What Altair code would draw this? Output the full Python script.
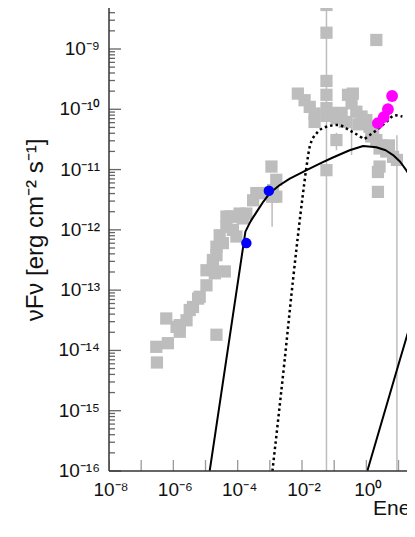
import altair as alt
import pandas as pd
import math

# ---------------- data (log10 values) ----------------
sq_logE = [-6.53, -6.51, -6.17, -6.22, -5.90, -5.80, -5.80, -5.59, -5.49, -5.39,
           -5.23, -5.18, -4.97, -4.97, -4.77, -4.77, -4.71, -4.66, -4.66, -4.46,
           -4.40, -4.35, -4.35, -4.25, -4.04, -3.94, -3.73, -3.52, -3.42, -3.21,
           -2.90, -2.80, -2.95, -2.80, -4.66, -4.15, -4.56, -3.84, -4.15,
           -1.24, -1.24, -1.24, -1.24, -1.24, -1.24, -1.24, 0.31, -2.13, -1.92,
           -1.76, -1.61, -1.61, -0.93, -0.93, -0.57, -0.46, -0.31, -0.15, 0.00,
           0.10, 0.21, 0.31, 0.41, 0.62, 0.83, 0.95, 0.41, 0.36, 0.36,
           -0.42, -1.11, -0.77, -0.67, -0.25, 0.15, 0.50, 0.70, -2.93]
sq_logF = [-13.94, -14.20, -13.88, -13.47, -13.61, -13.58, -13.69, -13.50, -13.33, -13.28,
           -13.14, -13.11, -12.92, -12.67, -12.61, -12.50, -12.72, -12.42, -12.28, -12.22,
           -12.69, -11.95, -11.78, -11.78, -12.11, -11.73, -11.73, -11.51, -11.39, -11.39,
           -11.34, -11.17, -10.95, -11.45, -13.74, -12.00, -12.09, -11.81, -11.78,
           -8.27, -8.73, -9.53, -9.76, -9.98, -10.11, -11.01, -8.85, -9.74, -9.85,
           -9.96, -10.07, -10.21, -10.15, -10.51, -9.76, -9.90, -10.04, -10.12, -10.18,
           -10.29, -10.40, -10.51, -10.65, -10.70, -10.79, -10.84, -10.95, -11.04, -11.37,
           -9.74, -10.06, -10.06, -10.21, -10.25, -10.45, -10.60, -10.60, -11.45]

err_logE = [-1.24, 0.95, -0.46, -0.93, -2.93]
err_lo = [-17.0, -17.0, -10.76, -10.68, -11.95]
err_hi = [-8.0, -10.43, -9.65, -10.39, -11.45]

blue_logE = [-3.73, -3.03]
blue_logF = [-12.22, -11.35]

mag_logE = [0.36, 0.54, 0.67, 0.80]
mag_logF = [-10.23, -10.13, -10.00, -9.78]

syn_logE = [-4.87, -3.76, -3.60, -3.42, -3.20, -3.00, -2.70, -2.38, -1.86, -1.40,
            -1.04, -0.52, -0.10, 0.31, 0.60, 0.83, 1.05, 1.24, 1.50, 1.80, 2.20]
syn_logF = [-16.0, -12.03, -11.86, -11.71, -11.53, -11.39, -11.26, -11.15, -11.01, -10.89,
            -10.80, -10.68, -10.61, -10.63, -10.68, -10.76, -10.87, -11.01, -11.24, -11.60, -12.30]

dot_logE = [-2.92, -2.54, -2.28, -1.97, -1.86, -1.76, -1.55, -1.24, -0.88, -0.52,
            -0.15, -0.10, 0.10, 0.31, 0.62, 0.88, 1.12]
dot_logF = [-16.0, -14.16, -12.83, -11.40, -10.95, -10.62, -10.40, -10.29, -10.26, -10.35,
            -10.47, -10.49, -10.43, -10.35, -10.21, -10.10, -10.12]

ic_logE = [0.03, 1.04, 1.50, 2.50]
ic_logF = [-16.0, -14.16, -13.33, -11.50]

y_major = [-16, -15, -14, -13, -12, -11, -10, -9]
y_labels = ["10⁻¹⁶", "10⁻¹⁵", "10⁻¹⁴", "10⁻¹³", "10⁻¹²", "10⁻¹¹", "10⁻¹⁰", "10⁻⁹"]
x_major = [-8, -7, -6, -5, -4, -3, -2, -1, 0, 1]
x_label_vals = [-8, -6, -4, -2, 0]
x_labels = ["10⁻⁸", "10⁻⁶", "10⁻⁴", "10⁻²", "10⁰"]

# ---------------- layout ----------------
W, H = 298, 463
XD = [-8, -8 + W / 32.17]
YD = [-16, -8.32]
FONT = "Liberation Sans"
GRAY = "#bdbdbd"

xs = alt.Scale(domain=XD, nice=False, zero=False)
ys = alt.Scale(domain=YD, nice=False, zero=False)


def X(f):
    return alt.X(f + ":Q", scale=xs, axis=None)


def Y(f):
    return alt.Y(f + ":Q", scale=ys, axis=None)


sq_df = pd.DataFrame({"e": sq_logE, "f": sq_logF})
err_df = pd.DataFrame({"e": err_logE, "lo": err_lo, "hi": err_hi})
blue_df = pd.DataFrame({"e": blue_logE, "f": blue_logF})
mag_df = pd.DataFrame({"e": mag_logE, "f": mag_logF})


def curve_df(e, f):
    return pd.DataFrame({"e": e, "f": f, "i": list(range(len(e)))})


errs = alt.Chart(err_df).mark_rule(color=GRAY, strokeWidth=1.5, clip=True).encode(
    x=X("e"), y=Y("lo"), y2="hi")
squares = alt.Chart(sq_df).mark_point(shape="square", filled=True, size=150, color=GRAY,
                                      opacity=1, clip=True).encode(x=X("e"), y=Y("f"))
syn = alt.Chart(curve_df(syn_logE, syn_logF)).mark_line(
    color="black", strokeWidth=2, clip=True, strokeJoin="round").encode(
    x=X("e"), y=Y("f"), order="i:Q")
dot = alt.Chart(curve_df(dot_logE, dot_logF)).mark_line(
    color="black", strokeWidth=2.5, strokeDash=[2.5, 3], clip=True, interpolate="monotone").encode(
    x=X("e"), y=Y("f"), order="i:Q")
ic = alt.Chart(curve_df(ic_logE, ic_logF)).mark_line(
    color="black", strokeWidth=2, clip=True).encode(x=X("e"), y=Y("f"), order="i:Q")
blue = alt.Chart(blue_df).mark_circle(color="#0000ff", size=110, opacity=1, clip=True).encode(
    x=X("e"), y=Y("f"))
mag = alt.Chart(mag_df).mark_circle(color="#ff00ff", size=140, opacity=1, clip=True).encode(
    x=X("e"), y=Y("f"))

# ticks
ymaj_df = pd.DataFrame({"v": y_major, "lab": y_labels})
ymin_vals = [d + math.log10(k) for d in range(-16, -8) for k in range(2, 10)]
ymin_vals = [v for v in ymin_vals if v <= YD[1]]
ymin_df = pd.DataFrame({"v": ymin_vals})
xmaj_df = pd.DataFrame({"v": x_major})
xlab_df = pd.DataFrame({"v": x_label_vals, "lab": x_labels})

ytick_major = alt.Chart(ymaj_df).mark_rule(color="#666666", strokeWidth=1.3).encode(
    y=Y("v"), x=alt.value(0), x2=alt.value(12))
ytick_minor = alt.Chart(ymin_df).mark_rule(color="#666666", strokeWidth=1.3).encode(
    y=Y("v"), x=alt.value(0), x2=alt.value(6))
xtick = alt.Chart(xmaj_df).mark_rule(color="#999999", strokeWidth=1.3, clip=True).encode(
    x=X("v"), y=alt.value(H - 11), y2=alt.value(H))

axis_left = alt.Chart(pd.DataFrame({"a": [0]})).mark_rule(color="#333333", strokeWidth=1.5).encode(
    x=alt.value(0), y=alt.value(0), y2=alt.value(H))
axis_bottom = alt.Chart(pd.DataFrame({"a": [0]})).mark_rule(color="#333333", strokeWidth=1.5).encode(
    x=alt.value(0), x2=alt.value(W), y=alt.value(H))

ylab = alt.Chart(ymaj_df).mark_text(font=FONT, fontSize=19, align="right", baseline="middle",
                                    color="#111111").encode(
    y=Y("v"), x=alt.value(-9), text="lab:N")
xlab = alt.Chart(xlab_df).mark_text(font=FONT, fontSize=19, align="center", baseline="top",
                                    color="#111111", dx=2).encode(
    x=X("v"), y=alt.value(H + 10), text="lab:N")

ytitle = alt.Chart(pd.DataFrame({"t": ["νFν  [erg cm⁻² s⁻¹]"]})).mark_text(
    font=FONT, fontSize=24, angle=270, align="center", baseline="alphabetic", color="#111111").encode(
    x=alt.value(-66), y=alt.value(222), text="t:N")
xtitle = alt.Chart(pd.DataFrame({"t": ["Energy [MeV]"]})).mark_text(
    font=FONT, fontSize=21, align="left", baseline="alphabetic", color="#111111").encode(
    x=alt.value(264), y=alt.value(H + 44), text="t:N")

chart = alt.layer(
    errs, squares, dot, syn, ic, blue, mag,
    ytick_minor, ytick_major, xtick, axis_left, axis_bottom,
    ylab, xlab, ytitle, xtitle
).properties(
    width=W, height=H,
    padding={"left": 101, "top": 0, "right": 0, "bottom": 50},
    autosize=alt.AutoSizeParams(type="none"),
).configure_view(stroke=None)

chart.save("out.html", embed_options={"renderer": "svg", "actions": False})
